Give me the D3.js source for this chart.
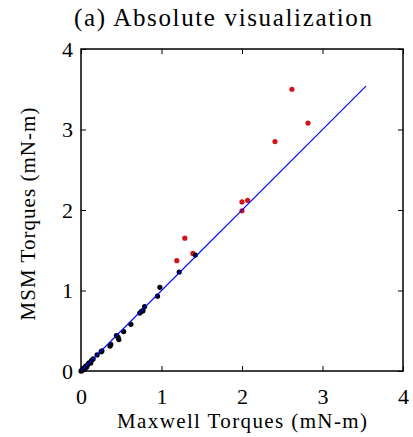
<!DOCTYPE html>
<html>
<head>
<meta charset="utf-8">
<script src="https://cdn.jsdelivr.net/npm/d3@7"></script>
<style>
  body { margin: 0; background: #fff; }
</style>
</head>
<body>
<div class="display"></div>
<script>
// axis ticks
const tickValues = [0, 1, 2, 3, 4];

// black points: Maxwell vs MSM torques (mN-m)
const blackX = [0.0, 0.01, 0.02, 0.03, 0.04, 0.05, 0.06, 0.07, 0.08, 0.09, 0.1, 0.12, 0.13, 0.15, 0.2, 0.25, 0.26, 0.36, 0.37, 0.44, 0.46, 0.47, 0.53, 0.62, 0.73, 0.75, 0.77, 0.79, 0.95, 0.98, 1.22, 1.42];
const blackY = [0.0, 0.01, 0.02, 0.02, 0.04, 0.03, 0.06, 0.05, 0.07, 0.09, 0.1, 0.1, 0.13, 0.15, 0.2, 0.24, 0.25, 0.31, 0.33, 0.44, 0.42, 0.39, 0.49, 0.58, 0.72, 0.74, 0.75, 0.8, 0.93, 1.04, 1.23, 1.44];

// red points
const redX = [0.01, 1.19, 1.29, 1.39, 2.0, 2.07, 2.0, 2.41, 2.62, 2.82];
const redY = [0.0, 1.37, 1.65, 1.46, 2.1, 2.12, 1.99, 2.85, 3.5, 3.08];

// identity line end
const lineEnd = 3.54;

const serif = "Liberation Serif";

const width = 413, height = 437;
const margin = { top: 49, right: 10, bottom: 66, left: 81 };
const innerWidth = width - margin.left - margin.right;
const innerHeight = height - margin.top - margin.bottom;

const svg = d3.select(".display").append("svg")
  .attr("width", width)
  .attr("height", height);

const g = svg.append("g").attr("transform", `translate(${margin.left},${margin.top})`);

const xScale = d3.scaleLinear().domain([0, 4]).range([0, innerWidth]);
const yScale = d3.scaleLinear().domain([0, 4]).range([innerHeight, 0]);

// axes with inward ticks
const tickLen = 5;
g.append("g").attr("transform", `translate(0,${innerHeight})`)
  .call(d3.axisBottom(xScale).tickValues(tickValues).tickSize(-tickLen).tickPadding(17).tickFormat(d3.format("d")))
  .call(a => a.select(".domain").remove());
g.append("g")
  .call(d3.axisLeft(yScale).tickValues(tickValues).tickSize(-tickLen).tickPadding(8).tickFormat(d3.format("d")))
  .call(a => a.select(".domain").remove());
g.append("g")
  .call(d3.axisTop(xScale).tickValues(tickValues).tickSize(-tickLen))
  .call(a => a.select(".domain").remove())
  .call(a => a.selectAll("text").remove());
g.append("g").attr("transform", `translate(${innerWidth},0)`)
  .call(d3.axisRight(yScale).tickValues(tickValues).tickSize(-tickLen))
  .call(a => a.select(".domain").remove())
  .call(a => a.selectAll("text").remove());

g.selectAll("g").attr("font-family", serif);
g.selectAll(".tick line").attr("stroke", "#000").attr("stroke-width", 1);
g.selectAll(".tick text")
  .attr("font-family", serif)
  .attr("font-size", 22)
  .attr("fill", "#000");

// frame
g.append("rect")
  .attr("width", innerWidth).attr("height", innerHeight)
  .attr("fill", "none").attr("stroke", "#000").attr("stroke-width", 1.5);

// red points first (underneath)
g.selectAll(".red").data(redX).enter().append("circle")
  .attr("class", "red")
  .attr("cx", d => xScale(d))
  .attr("cy", (d, i) => yScale(redY[i]))
  .attr("r", 2.6)
  .attr("fill", "#d0141c");

g.selectAll(".black").data(blackX).enter().append("circle")
  .attr("class", "black")
  .attr("cx", d => xScale(d))
  .attr("cy", (d, i) => yScale(blackY[i]))
  .attr("r", 2.6)
  .attr("fill", "#000");

// identity line
g.append("line")
  .attr("x1", xScale(0)).attr("y1", yScale(0))
  .attr("x2", xScale(lineEnd)).attr("y2", yScale(lineEnd))
  .attr("stroke", "#0000ff").attr("stroke-width", 1.1);

// title and labels, stretched to the reference extents
svg.append("text")
  .attr("x", 223).attr("y", 26)
  .attr("text-anchor", "middle")
  .attr("font-family", serif)
  .attr("font-size", 25)
  .attr("textLength", 298)
  .attr("lengthAdjust", "spacing")
  .text("(a) Absolute visualization");

svg.append("text")
  .attr("x", 242).attr("y", 428)
  .attr("text-anchor", "middle")
  .attr("font-family", serif)
  .attr("font-size", 21)
  .attr("textLength", 250)
  .attr("lengthAdjust", "spacing")
  .text("Maxwell Torques (mN-m)");

svg.append("text")
  .attr("transform", `translate(35,214) rotate(-90)`)
  .attr("text-anchor", "middle")
  .attr("font-family", serif)
  .attr("font-size", 21)
  .attr("textLength", 213)
  .attr("lengthAdjust", "spacing")
  .text("MSM Torques (mN-m)");
</script>
</body>
</html>
